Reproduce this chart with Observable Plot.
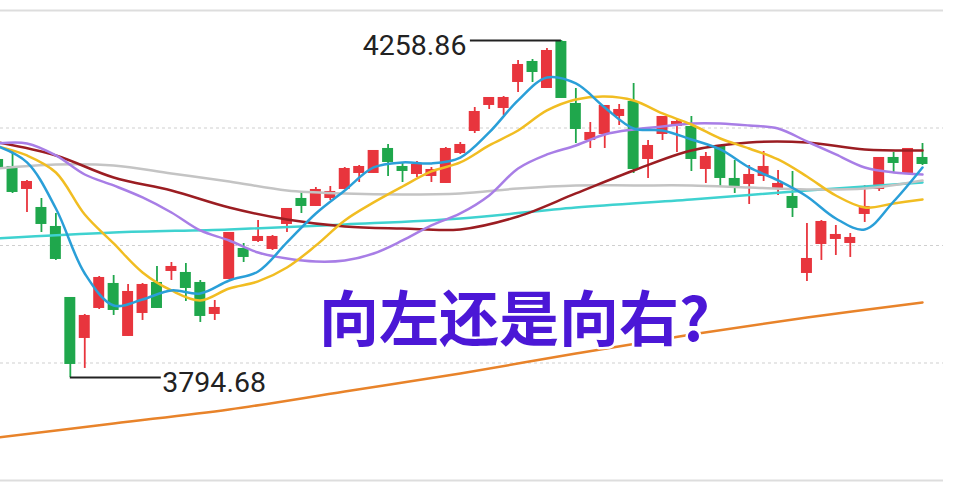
<!DOCTYPE html>
<html><head><meta charset="utf-8">
<script src="https://cdn.jsdelivr.net/npm/d3@7"></script>
<script src="https://cdn.jsdelivr.net/npm/@observablehq/plot@0.6"></script>
<style>
html,body{margin:0;padding:0;background:#fff;}
#chart{position:relative;width:956px;height:498px;overflow:hidden;}
#chart svg{display:block;}
</style></head><body><div id="chart"></div>
<script>
// Daily candles (index 0..64), prices
const openP  = [4093.62,4083.97,4055.05,4027.50,4001.33,3903.53,3849.82,3891.14,3922.82,3852.57,3884.25,3924.20,3942.10,3937.97,3924.20,3882.87,3931.08,3971.03,3983.42,3972.40,4006.84,4039.90,4031.63,4042.65,4055.05,4077.09,4077.09,4108.77,4083.97,4075.71,4072.95,4063.31,4104.64,4134.94,4170.75,4166.62,4202.43,4228.60,4194.17,4256.15,4170.75,4122.54,4130.81,4155.60,4173.51,4096.37,4130.81,4141.82,4139.07,4082.60,4111.52,4067.45,4061.94,4072.95,4056.43,4042.65,3939.35,3979.29,3986.18,3980.67,4020.61,4055.05,4096.37,4077.09,4096.37];
const highP  = [4096.37,4107.39,4066.07,4041.27,4020.61,3904.90,3881.50,3933.84,3935.21,3922.82,3924.20,3947.61,3953.12,3951.74,3928.33,3900.78,3994.44,3979.29,4010.97,3990.31,4027.50,4049.54,4056.43,4057.80,4083.97,4086.73,4107.39,4115.65,4090.86,4092.24,4083.97,4111.52,4118.41,4166.62,4180.39,4181.77,4231.36,4232.73,4247.88,4258.86,4192.79,4145.96,4169.37,4170.75,4199.68,4121.16,4154.22,4148.71,4154.22,4104.64,4114.28,4093.62,4086.73,4106.01,4079.84,4078.46,4006.84,4010.97,4004.08,3993.07,4059.18,4097.75,4104.64,4110.14,4117.03];
const lowP   = [4079.84,4048.16,4021.99,3994.44,3955.88,3794.68,3807.12,3888.38,3880.12,3851.19,3873.23,3889.76,3928.33,3899.40,3870.48,3873.23,3929.71,3953.12,3980.67,3969.65,3994.44,4020.61,4030.26,4038.52,4053.67,4063.31,4075.71,4071.58,4063.31,4070.20,4063.31,4061.94,4101.88,4130.81,4163.86,4155.60,4187.28,4201.05,4192.79,4179.01,4117.03,4110.14,4110.14,4141.82,4075.71,4068.82,4121.16,4104.64,4078.46,4061.94,4057.80,4048.16,4033.01,4064.69,4045.41,4015.10,3926.95,3955.88,3962.76,3960.01,4008.22,4050.92,4077.09,4075.71,4086.73];
const closeP = [4082.60,4050.92,4063.31,4006.84,3958.63,3814.00,3878.74,3931.08,3888.38,3911.80,3921.44,3891.14,3946.23,3918.69,3880.12,3889.76,3993.07,3961.39,3987.56,3987.56,4026.12,4031.63,4052.29,4049.54,4081.22,4083.97,4106.01,4092.24,4079.84,4086.73,4079.84,4108.77,4114.28,4159.73,4179.01,4179.01,4224.47,4216.20,4243.75,4180.39,4137.69,4130.81,4168.00,4162.49,4082.60,4112.90,4152.84,4145.96,4096.37,4097.75,4070.20,4059.18,4072.95,4083.97,4060.56,4028.88,3957.25,4008.22,3990.31,3986.18,4028.88,4096.37,4090.86,4108.77,4089.48];

// Moving averages read at candle indices
const idxEven = d3.range(0, 65, 2);   // 0,2,...,64
const idxQuad = d3.range(0, 65, 4);   // 0,4,...,64
const idxOct  = d3.range(0, 65, 8);   // 0,8,...,64
const ma5   = [4112.9,4090.9,4027.5,3938.0,3893.9,3902.2,3914.6,3910.4,3928.3,3940.7,3980.7,4020.6,4052.3,4084.0,4090.9,4089.5,4097.7,4132.2,4176.3,4207.9,4199.7,4166.6,4137.7,4134.9,4122.5,4108.8,4084.0,4066.1,4044.0,4013.7,3998.6,4037.1,4084.0];
const ma10  = [4112.9,4100.5,4077.1,4019.2,3979.3,3939.4,3914.6,3900.8,3917.3,3927.0,3946.2,3976.5,4011.0,4035.8,4057.8,4078.5,4090.9,4114.3,4134.9,4162.5,4177.6,4181.8,4176.3,4158.4,4143.2,4123.9,4110.1,4095.0,4071.6,4045.4,4028.9,4034.4,4039.9];
const ma20  = [4117.0,4117.0,4100.5,4074.3,4059.2,4042.7,4022.0,3997.2,3983.4,3966.9,3958.6,3954.5,3955.9,3965.5,3983.4,4004.1,4020.6,4045.4,4082.6,4101.9,4114.3,4129.4,4136.3,4140.4,4144.6,4144.6,4141.8,4137.7,4119.8,4101.9,4084.0,4077.1,4074.3];
const ma30  = [4118.4,4100.5,4070.2,4052.3,4028.9,4012.3,4002.7,3999.9,3998.6,4016.5,4048.2,4079.8,4107.4,4118.4,4118.4,4108.8,4107.4];
const ma60  = [4082.6,4088.1,4086.7,4075.7,4064.7,4052.3,4048.2,4046.8,4048.2,4055.0,4059.2,4059.2,4059.2,4056.4,4053.7,4055.0,4066.1];
const ma120 = [3986.2,3994.4,3998.6,4005.5,4013.7,4028.9,4039.9,4052.3,4063.3];
const ma250 = [3712.1,3731.4,3750.6,3775.4,3800.2,3827.8,3854.0,3877.4,3898.0];

const gridLevels  = [4138.35, 3976.5, 3814.65];
const frameLevels = [4300.2, 3652.8];
const extremes = [
  {i: 39, price: 4258.86, label: "4258.86", side: -1},
  {i: 5,  price: 3794.68, label: "3794.68", side: 1}
];
const title = "向左还是向右?";

const RED = "#e8353d", GREEN = "#1fa74c";
const candles = openP.map((o, i) => ({i, open: o, high: highP[i], low: lowP[i], close: closeP[i], up: closeP[i] >= o}));

const series = [
  {idx: idxOct,  vals: ma120, color: "#3fd2d0"},
  {idx: idxQuad, vals: ma60,  color: "#c4c4c4"},
  {idx: idxQuad, vals: ma30,  color: "#9b1d22"},
  {idx: idxEven, vals: ma20,  color: "#a87ee6"},
  {idx: idxEven, vals: ma10,  color: "#f1bd22"},
  {idx: idxEven, vals: ma5,   color: "#2a9fd8"}
];
const lineMarks = series.map(s => Plot.line(s.vals.map((v, k) => ({i: s.idx[k], v})),
  {x: "i", y: "v", stroke: s.color, strokeWidth: 2.5, curve: "catmull-rom"}));

const chart = Plot.plot({
  width: 956, height: 498,
  marginLeft: 0, marginRight: 13, marginTop: 10, marginBottom: 18,
  x: {type: "linear", domain: [0, 64], range: [-2.4, 922], axis: null},
  y: {domain: [3652.8, 4300.2], axis: null},
  style: {background: "#fff", fontFamily: "Roboto, sans-serif"},
  marks: [
    Plot.ruleY(gridLevels, {stroke: "#cfcfcf", strokeWidth: 1, strokeDasharray: "3,3"}),
    Plot.ruleY(frameLevels, {stroke: "#dddddd", strokeWidth: 2}),
    Plot.line(ma250.map((v, k) => ({i: idxOct[k], v})), {x: "i", y: "v", stroke: "#e8832a", strokeWidth: 2.5, curve: "catmull-rom"}),
    Plot.ruleX(candles, {x: "i", y1: "low", y2: "high", stroke: d => d.up ? RED : GREEN, strokeWidth: 1.8}),
    Plot.rect(candles, {x1: d => d.i - 0.38, x2: d => d.i + 0.38, y1: "open", y2: "close",
      fill: d => d.up ? RED : GREEN, insetTop: -1, insetBottom: -1}),
    ...lineMarks,
    Plot.ruleY(extremes, {y: "price", x1: "i", x2: d => d.i + d.side * 6.3, stroke: "#222", strokeWidth: 2}),
    Plot.text(extremes.filter(d => d.side < 0), {x: "i", y: "price", text: "label", dx: -95, dy: 5,
      textAnchor: "end", fontSize: 28.5, fill: "#222"}),
    Plot.text(extremes.filter(d => d.side > 0), {x: "i", y: "price", text: "label", dx: 92, dy: 5,
      textAnchor: "start", fontSize: 28.5, fill: "#222"}),
    Plot.text([title], {frameAnchor: "top-left", dx: 514, dy: 288, text: d => d, textAnchor: "middle",
      fontSize: 60, fontWeight: "bold", fill: "#4b17d6", stroke: "#fff", strokeWidth: 5,
      fontFamily: "'Noto Sans CJK SC', sans-serif"})
  ]
});
document.getElementById("chart").appendChild(chart);
</script></body></html>
